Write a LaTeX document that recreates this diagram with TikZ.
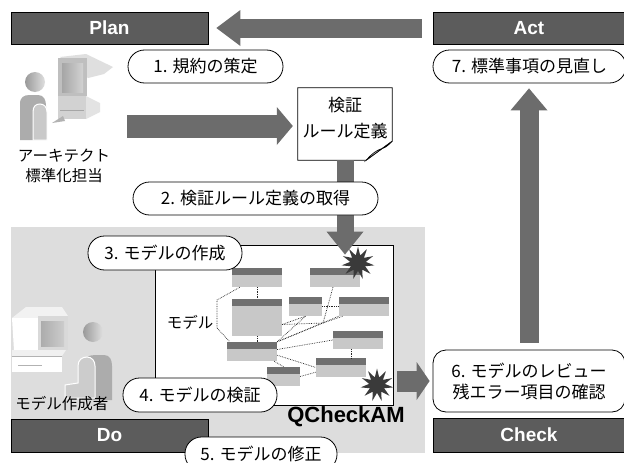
\documentclass[tikz,border=0pt]{standalone}
\usepackage{fontspec}
\setmainfont{Noto Sans CJK JP}
\newfontfamily\latinhead{Liberation Sans}
\usetikzlibrary{arrows.meta,shapes.geometric,calc}

\definecolor{boxdark}{RGB}{92,92,92}
\definecolor{arrowgray}{RGB}{108,108,108}
\definecolor{zone}{RGB}{221,221,221}
\definecolor{hdr}{RGB}{112,112,112}
\definecolor{bodygray}{RGB}{200,200,200}
\definecolor{burstcol}{RGB}{58,58,58}

\tikzset{
  phase/.style={draw=black, line width=0.8pt, fill=boxdark, text=white, inner sep=0pt,
    font=\latinhead\bfseries\fontsize{19}{22}\selectfont},
  pill/.style={draw=black, line width=0.8pt, fill=white, inner sep=0pt, align=center,
    rounded corners=#1, font=\fontsize{17}{21}\selectfont},
  pill/.default=16.5pt,
  entity/.style={fill=bodygray, inner sep=0pt, minimum height=19pt, minimum width=50pt,
    path picture={\fill[hdr] (path picture bounding box.north west) rectangle
      ([yshift=-7pt]path picture bounding box.north east);}},
  link/.style={densely dotted, line width=0.7pt, black!85},
  burst/.style={star, star points=11, star point ratio=2.1, fill=burstcol,
    minimum size=33pt, inner sep=0pt},
  blockarrow/.style n args={3}{arrowgray, line width=#1,
    -{Triangle[length=#2, width=#3, line width=0pt]}},
  jp/.style={font=\fontsize{15.5}{20}\selectfont, align=center, inner sep=0pt},
}

\begin{document}
\begin{tikzpicture}[x=1pt,y=-1pt]
\useasboundingbox (0,0) rectangle (624,463);
\fill[white] (0,0) rectangle (624,463);

% work area of the "Do" phase
\fill[zone] (11,227) rectangle (425,453);

% QCheckAM window
\node[draw, line width=0.8pt, fill=white, minimum width=238pt, minimum height=160pt,
  inner sep=0pt] (qbox) at (274,325) {};

% model entities
\node[entity] (m1) at (257,277.5) {};
\node[entity] (m2) at (335,277.5) {};
\node[entity, minimum height=37pt] (m3) at (257,317.5) {};
\node[entity, minimum width=33pt] (m4) at (305.5,306.5) {};
\node[entity] (m5) at (364,306.5) {};
\node[entity] (m6) at (252,351.5) {};
\node[entity, minimum height=18pt] (m7) at (358,340) {};
\node[entity] (m8) at (341,367.5) {};
\node[entity, minimum width=33pt] (m9) at (283.5,376.5) {};
\coordinate (hub) at (323,323);

% relations between entities
\draw[link] (m1.south) -- (m3.north);
\draw[link] (m3.south) -- (m3.south |- m6.north);
\draw[link] ($(m1.south west)+(8,0)$) -- (217,300) -- (217,328) -- ($(m6.north west)+(3,0)$);
\draw[link] (m4.east) -- (m5.west);
\draw[link] ($(m2.south)+(-2,0)$) -- (hub);
\draw[link] (m6.north east) -- (m4.south);
\draw[link] (m6.north east) -- (hub);
\draw[link] (m6.north east) -- (m5.south west);
\draw[link] ($(m3.east)+(0,7)$) -- (m4.south);
\draw[link] ($(m3.east)+(0,7)$) -- (hub);
\draw[link] (hub) -- ($(m5.south west)+(4,0)$);
\draw[link] ($(m6.east)+(0,-2)$) -- (m7.west);
\draw[link] ($(m6.south east)+(0,-6)$) -- (m8.west);
\draw[link] ($(m6.south east)+(-3,0)$) -- (m9.north);
\draw[link] (m9.east) -- ($(m8.south west)+(0,-5)$);
\draw[link] ($(m7.south)+(-7,0)$) -- ($(m8.north)+(10,0)$);
\node[jp] (modellbl) at (190,322) {モデル};

% rule definition sheet with a curled corner
\node[minimum width=94pt, minimum height=72pt, inner sep=0pt] (doc) at (345,124) {};
\filldraw[fill=white, draw=black, line width=0.8pt]
  (doc.north west) -- (doc.north east) -- ($(doc.south east)+(0,-19)$)
  -- ($(doc.south east)+(-26,0)$) -- (doc.south west) -- cycle;
\shade[left color=gray!55, right color=gray!10, draw=black, line width=0.6pt]
  ($(doc.south east)+(0,-19)$) -- ($(doc.south east)+(-26,0)$)
  .. controls ($(doc.south east)+(-20,-7)$) and ($(doc.south east)+(-15,-10)$)
  .. ($(doc.south east)+(-12,-11)$)
  .. controls ($(doc.south east)+(-6,-13)$) .. ($(doc.south east)+(0,-19)$);
\node[font=\fontsize{17}{26}\selectfont, align=center, inner sep=0pt] (doctext)
  at (345,118) {検証\\ルール定義};

% rule definitions flow into the tool
\draw[blockarrow={17pt}{23pt}{37pt}]
  (doc.south) -- ($(doc.south |- qbox.north)+(0,10)$);

% error markers
\node[burst] (err1) at (358,263) {};
\node[burst] (err2) at (377,385) {};

\node[font=\latinhead\bfseries\fontsize{22}{24}\selectfont, inner sep=0pt]
  (qlabel) at (346,417) {QCheckAM};

% architect at the workstation
\fill[gray!25] (60,57) -- (86,54) -- (113,67) -- (104,74) -- (88,78) -- cycle;
\fill[gray!50] (58,58) rectangle (87,96);
\shade[left color=gray!70, right color=gray!35] (62,63) rectangle (83,92);
\fill[gray!35] (58,96) rectangle (86,119);
\fill[gray!22] (86,96) -- (100,103) -- (100,112) -- (86,119) -- cycle;
\draw[gray!70, line width=0.6pt] (60,110) -- (84,110);
\fill[gray!60] (52,123) -- (63,116) -- (65,121) -- cycle;
\shade[left color=gray!80, right color=gray!25] (35,82) circle (10);
\fill[gray!65] (20,140) -- (20,104) .. controls (20,97) and (24,95) .. (30,95) -- (38,95)
  .. controls (44,95) and (46,100) .. (46,106) -- (46,140) -- cycle;
\fill[gray!42, draw=white, line width=1pt] (33,140) -- (33,112)
  .. controls (33,106) and (36,104) .. (40,104) .. controls (44,104) and (47,107) .. (47,112)
  -- (47,140) -- cycle;
\coordinate (archout) at (127,126);
\node[jp] (archlbl) at (64,166) {アーキテクト\\標準化担当};

% model author at the workstation
\fill[gray!10] (12,318) -- (26,307) -- (62,307) -- (68,316) -- (38,318) -- cycle;
\fill[white] (12,318) -- (38,318) -- (38,350) -- (14,350) -- cycle;
\fill[gray!30] (38,316) rectangle (68,350);
\shade[left color=gray!65, right color=gray!40] (41,321) rectangle (64,346);
\fill[gray!12] (12,350) -- (66,350) -- (62,356) -- (12,356) -- cycle;
\fill[white] (12,356) rectangle (62,372);
\draw[gray!60, line width=0.6pt] (12,356) -- (62,356) (18,365) -- (42,365);
\shade[left color=gray!80, right color=gray!25] (93,332) circle (10);
\fill[gray!65] (82,400) -- (82,368) .. controls (82,358) and (88,355) .. (95,355) -- (104,355)
  .. controls (110,355) and (112,360) .. (112,366) -- (112,400) -- cycle;
\fill[gray!40, draw=white, line width=1pt] (65,398) -- (65,385) -- (78,383) -- (78,366)
  .. controls (78,360) and (82,357) .. (87,357) .. controls (92,357) and (95,361) .. (95,366)
  -- (95,398) -- cycle;
\node[jp] (makerlbl) at (62,404) {モデル作成者};

% PDCA phase bars
\node[phase, minimum width=197pt, minimum height=32pt] (plan) at (109.5,28) {Plan};
\node[phase, minimum width=192pt, minimum height=32pt] (act) at (529,28) {Act};
\node[phase, minimum width=197pt, minimum height=33pt] (do) at (109.5,435.5) {Do};
\node[phase, minimum width=192pt, minimum height=34pt] (check) at (529,435) {Check};

% steps
\node[pill, minimum width=155pt, minimum height=33pt] (s1) at (205.5,66.5) {1. 規約の策定};
\node[pill, minimum width=245pt, minimum height=33pt] (s2) at (255.5,198.5) {2. 検証ルール定義の取得};
\node[pill, minimum width=154pt, minimum height=34pt] (s3) at (165,253) {3. モデルの作成};
\node[pill, minimum width=154pt, minimum height=34pt] (s4) at (200,395) {4. モデルの検証};
\node[pill, minimum width=152pt, minimum height=34pt] (s5) at (261,454) {5. モデルの修正};
\node[pill=13pt, minimum width=192pt, minimum height=62pt] (s6) at (529,381)
  {6. モデルのレビュー\\残エラー項目の確認};
\node[pill, minimum width=193pt, minimum height=33pt] (s7) at (529.5,66.5) {7. 標準事項の見直し};

% cycle arrows
\draw[blockarrow={19pt}{24pt}{36pt}, shorten <=11pt, shorten >=8pt] (act.west) -- (plan.east);
\draw[blockarrow={23pt}{16pt}{38pt}, shorten >=5pt] (archout) -- (archout -| doc.west);
\draw[blockarrow={21pt}{13pt}{38pt}, shorten <=4pt, shorten >=3pt]
  (qbox.east |- s6.west) -- (s6.west);
\draw[blockarrow={19pt}{22pt}{37pt}, shorten <=7pt, shorten >=5pt]
  (s6.north) -- (s6.north |- s7.south);
\end{tikzpicture}
\end{document}
